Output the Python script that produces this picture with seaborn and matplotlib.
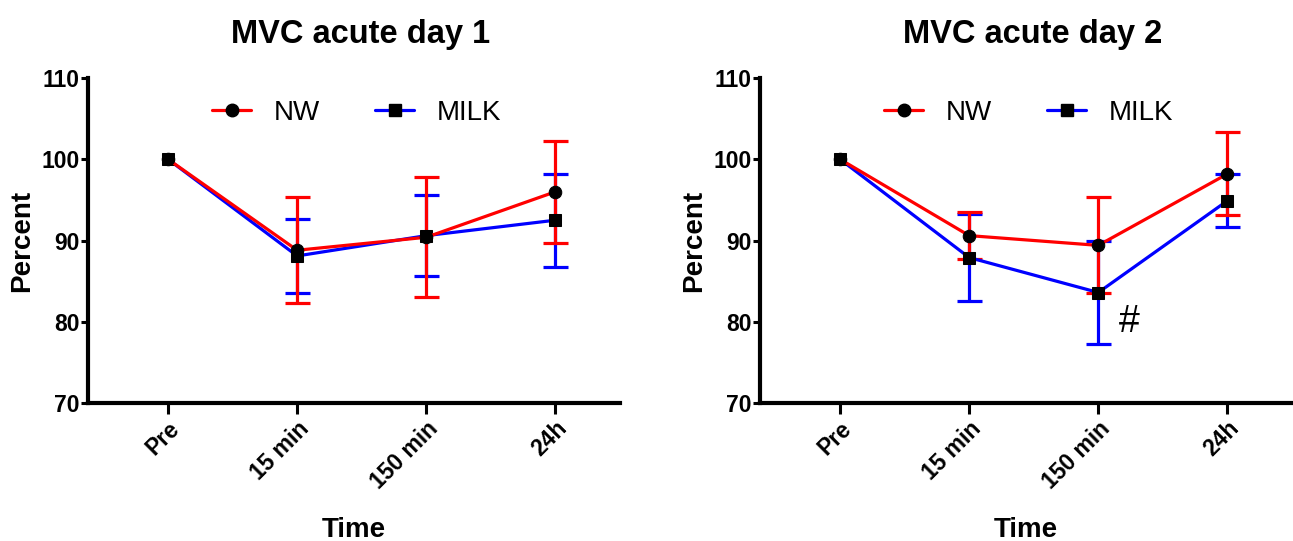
import matplotlib
matplotlib.use("Agg")
import matplotlib.pyplot as plt
import seaborn as sns
import pandas as pd
import numpy as np

sns.set_theme(style="ticks")
plt.rcParams['font.family'] = ['Liberation Sans', 'DejaVu Sans']
plt.rcParams['text.color'] = 'black'
plt.rcParams['axes.labelcolor'] = 'black'
plt.rcParams['xtick.color'] = 'black'
plt.rcParams['ytick.color'] = 'black'

times = ["Pre", "15 min", "150 min", "24h"]
groups = ["NW", "MILK"]
titles = ["MVC acute day 1", "MVC acute day 2"]

nw_day1 = [100.0, 88.8, 90.4, 96.0]
nw_day1_sd = [0.0, 6.5, 7.4, 6.3]
milk_day1 = [100.0, 88.1, 90.6, 92.5]
milk_day1_sd = [0.0, 4.6, 5.0, 5.7]

nw_day2 = [100.0, 90.6, 89.4, 98.2]
nw_day2_sd = [0.0, 2.9, 5.9, 5.1]
milk_day2 = [100.0, 87.9, 83.6, 94.9]
milk_day2_sd = [0.0, 5.3, 6.3, 3.3]

colors = {"NW": "#ff0000", "MILK": "#0000ff"}
markers = {"NW": "o", "MILK": "s"}
msizes = {"NW": 9.0, "MILK": 8.5}

fig = plt.figure(figsize=(12.93, 5.41), dpi=100)
ax1 = fig.add_axes([88/1293, 1-403/541, (620-88)/1293, (403-78)/541])
ax2 = fig.add_axes([760/1293, 1-403/541, (1292-760)/1293, (403-78)/541])

datasets = [
    {"NW": (nw_day1, nw_day1_sd), "MILK": (milk_day1, milk_day1_sd)},
    {"NW": (nw_day2, nw_day2_sd), "MILK": (milk_day2, milk_day2_sd)},
]

for ax, data, title in zip([ax1, ax2], datasets, titles):
    rows = []
    for g in ["MILK", "NW"]:
        m, s = data[g]
        for i, t in enumerate(times):
            rows.append({"x": i, "Time": t, "value": m[i], "sd": s[i], "group": g})
    df = pd.DataFrame(rows)
    for g in ["MILK", "NW"]:
        sub = df[(df.group == g) & (df.sd > 0)]
        ax.errorbar(sub.x, sub.value, yerr=sub.sd, fmt="none", ecolor=colors[g],
                    elinewidth=2.3, capsize=9, capthick=2.3, zorder=2)
    for g in ["MILK", "NW"]:
        sub = df[df.group == g]
        sns.lineplot(data=sub, x="x", y="value", color=colors[g],
                     marker=markers[g], markersize=msizes[g],
                     markerfacecolor="black", markeredgecolor="black",
                     linewidth=2.3, ax=ax, zorder=3, legend=False)
    ax.set_xlim(-0.62, 3.5)
    ax.set_ylim(70, 110)
    ax.set_yticks([70, 80, 90, 100, 110])
    ax.set_xticks(range(len(times)))
    ax.set_xticklabels(times, rotation=45, ha="right", rotation_mode="anchor",
                       fontsize=16.5, fontweight="bold")
    for lab in ax.get_yticklabels():
        lab.set_fontsize(16.5)
        lab.set_fontweight("bold")
    ax.tick_params(axis="y", width=2.2, length=5, pad=1)
    ax.tick_params(axis="x", width=2.2, length=8, pad=2)
    for sp in ["top", "right"]:
        ax.spines[sp].set_visible(False)
    for sp in ["left", "bottom"]:
        ax.spines[sp].set_linewidth(3)
        ax.spines[sp].set_color("black")
    ax.set_xlabel("Time", fontsize=20, fontweight="bold", va="top")
    ax.xaxis.set_label_coords(0.5, -0.35)
    ax.set_ylabel("Percent", fontsize=20, fontweight="bold")
    ax.yaxis.set_label_coords(-0.1, 0.5)
    ax.set_title(title, fontsize=23.5, fontweight="bold", pad=25, x=0.512)
    handles = [
        plt.Line2D([], [], color=colors[g], lw=2.3, marker=markers[g],
                   markersize=msizes[g],
                   markerfacecolor="black", markeredgecolor="black")
        for g in groups
    ]
    ax.legend(handles, groups, loc="upper center", bbox_to_anchor=(0.505, 1.01),
              ncol=2, frameon=False, fontsize=20, handlelength=1.4,
              columnspacing=2.0, handletextpad=0.8)

ax2.text(2.24, 80.0, "#", fontsize=27, ha="center", va="center")

fig.savefig("out.png", dpi=100)
